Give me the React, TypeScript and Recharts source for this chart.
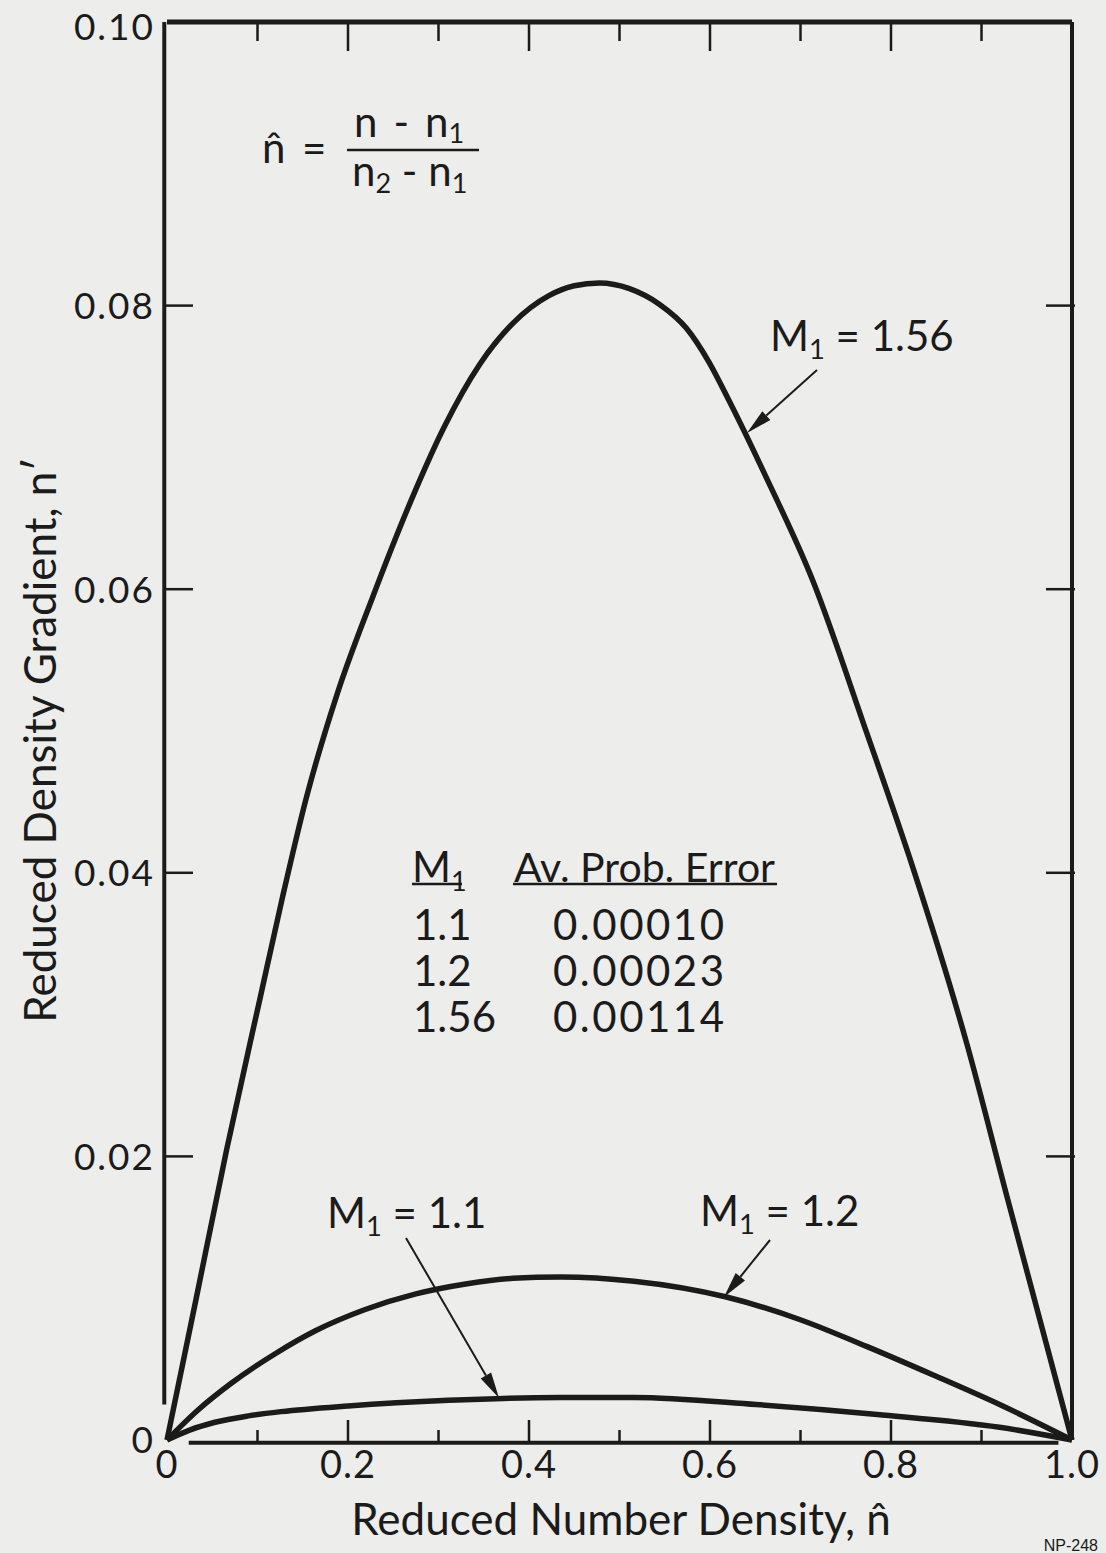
import { LineChart, Line, XAxis, YAxis, ReferenceLine } from "recharts";

const W = 1106;
const H = 1553;
// plot box (px)
const PL = 167;
const PR = 1072;
const PT = 22;
const PB = 1440;

const FONT = 'Lato, "Open Sans", sans-serif';
const INK = "#1b1b1b";
const PAPER = "#ededeb";

const xTicks = [0, 0.1, 0.2, 0.3, 0.4, 0.5, 0.6, 0.7, 0.8, 0.9, 1.0];
const xTickLabels = ["0", "", "0.2", "", "0.4", "", "0.6", "", "0.8", "", "1.0"];
const yTicks = [0, 0.02, 0.04, 0.06, 0.08, 0.1];
const yTickLabels = ["0", "0.02", "0.04", "0.06", "0.08", "0.10"];

// M1 = 1.56
const m156X = [0, 0.032, 0.066, 0.103, 0.127, 0.154, 0.188, 0.227, 0.27, 0.306, 0.346, 0.383, 0.422, 0.45, 0.478, 0.511, 0.544, 0.574, 0.599, 0.621, 0.662, 0.713, 0.773, 0.824, 0.884, 0.928, 1.0];
const m156Y = [0, 0.0099, 0.0205, 0.0312, 0.0381, 0.0453, 0.0526, 0.0594, 0.0663, 0.0714, 0.0759, 0.0788, 0.0807, 0.0814, 0.0816, 0.0812, 0.0801, 0.0784, 0.076, 0.0733, 0.0679, 0.0607, 0.0499, 0.0404, 0.0279, 0.0172, 0];

// M1 = 1.2
const m12X = [0, 0.034, 0.071, 0.12, 0.164, 0.219, 0.275, 0.33, 0.382, 0.435, 0.516, 0.617, 0.699, 0.773, 0.846, 0.92, 1.0];
const m12Y = [0, 0.0021, 0.004, 0.0061, 0.0077, 0.0092, 0.0103, 0.011, 0.0114, 0.0115, 0.0112, 0.0101, 0.0085, 0.0066, 0.0046, 0.0025, 0];

// M1 = 1.1
const m11X = [0, 0.025, 0.053, 0.09, 0.126, 0.2, 0.311, 0.435, 0.516, 0.651, 0.785, 0.92, 1.0];
const m11Y = [0, 0.0007, 0.00125, 0.0017, 0.002, 0.0024, 0.0028, 0.003, 0.003, 0.0025, 0.0018, 0.0009, 0];

const toPts = (xs: number[], ys: number[]) => xs.map((x, i) => ({ x, y: ys[i] }));

const BottomTick = (props: any) => {
  const { x, y, index } = props;
  const major = index % 2 === 0;
  return (
    <g>
      {index > 0 && index < 10 && (
        <line x1={x} x2={x} y1={y + 3} y2={y + 3 - (major ? 23 : 13)} stroke={INK} strokeWidth={2.5} />
      )}
      {xTickLabels[index] && (
        <text x={x} y={y + 38} textAnchor="middle" fontFamily={FONT} fontSize={38} letterSpacing={1} fill={INK}>
          {xTickLabels[index]}
        </text>
      )}
    </g>
  );
};

const TopTick = (props: any) => {
  const { x, y, index } = props;
  if (index === 0 || index === 10) return <g />;
  const major = index % 2 === 0;
  return <line x1={x} x2={x} y1={y} y2={y + (major ? 29 : 19)} stroke={INK} strokeWidth={2.5} />;
};

const LeftTick = (props: any) => {
  const { x, y, index } = props;
  // the top label sits a little under its tick in the original
  const ty = index === 5 ? y + 5 : y;
  return (
    <g>
      {index > 0 && index < 5 && <line x1={x - 3} x2={x + 26} y1={y} y2={y} stroke={INK} strokeWidth={2.5} />}
      <text x={x - 12} y={ty} dy="0.36em" textAnchor="end" fontFamily={FONT} fontSize={37} letterSpacing={2} fill={INK}>
        {yTickLabels[index]}
      </text>
    </g>
  );
};

const RightTick = (props: any) => {
  const { x, y, index } = props;
  if (index === 0 || index === 5) return <g />;
  return <line x1={x + 3} x2={x - 26} y1={y} y2={y} stroke={INK} strokeWidth={2.5} />;
};

function Arrow({ x1, y1, x2, y2 }: { x1: number; y1: number; x2: number; y2: number }) {
  const dx = x2 - x1;
  const dy = y2 - y1;
  const len = Math.hypot(dx, dy);
  const ux = dx / len;
  const uy = dy / len;
  const hl = 26;
  const hw = 6;
  const bx = x2 - ux * hl;
  const by = y2 - uy * hl;
  const pts = `${x2},${y2} ${bx - uy * hw},${by + ux * hw} ${bx + uy * hw},${by - ux * hw}`;
  return (
    <g>
      <line x1={x1} y1={y1} x2={bx} y2={by} stroke={INK} strokeWidth={2} />
      <polygon points={pts} fill={INK} />
    </g>
  );
}

function MLabel({ x, y, value, size = 42 }: { x: number; y: number; value: string; size?: number }) {
  return (
    <text x={x} y={y} fontFamily={FONT} fontSize={size} fill={INK}>
      M
      <tspan fontSize={size * 0.65} dy={8}>1</tspan>
      <tspan dy={-8}> = {value}</tspan>
    </text>
  );
}

export default function App() {
  return (
    <div style={{ position: "absolute", left: 0, top: 0, width: W, height: H, background: PAPER }}>
      <LineChart
        width={W}
        height={H}
        margin={{ top: PT - 10, right: W - PR - 10, bottom: H - PB - 50, left: PL - 100 }}
      >
        <XAxis
          dataKey="x"
          type="number"
          domain={[0, 1]}
          ticks={xTicks}
          interval={0}
          height={50}
          axisLine={false}
          tickLine={false}
          tickSize={0}
          tickMargin={0}
          tick={<BottomTick />}
        />
        <XAxis
          xAxisId="top"
          orientation="top"
          dataKey="x"
          type="number"
          domain={[0, 1]}
          ticks={xTicks}
          interval={0}
          height={10}
          axisLine={{ stroke: INK, strokeWidth: 5 }}
          tickLine={false}
          tickSize={0}
          tickMargin={0}
          tick={<TopTick />}
        />
        <YAxis
          type="number"
          domain={[0, 0.1]}
          ticks={yTicks}
          interval={0}
          width={100}
          axisLine={false}
          tickLine={false}
          tickSize={0}
          tickMargin={0}
          tick={<LeftTick />}
        />
        <YAxis
          yAxisId="right"
          orientation="right"
          type="number"
          domain={[0, 0.1]}
          ticks={yTicks}
          interval={0}
          width={10}
          axisLine={{ stroke: INK, strokeWidth: 4 }}
          tickLine={false}
          tickSize={0}
          tickMargin={0}
          tick={<RightTick />}
        />
        <ReferenceLine
          segment={[{ x: -0.003, y: 0.0025 }, { x: -0.003, y: 0.1 }]}
          stroke={INK}
          strokeWidth={4}
          ifOverflow="visible"
        />
        <ReferenceLine
          segment={[{ x: 0.024, y: -0.0002 }, { x: 0.985, y: -0.0002 }]}
          stroke={INK}
          strokeWidth={4}
          ifOverflow="visible"
        />
        <Line
          xAxisId="top"
          yAxisId="right"
          data={toPts(m156X, m156Y)}
          dataKey="y"
          type="monotone"
          stroke={INK}
          strokeWidth={5.5}
          dot={false}
          isAnimationActive={false}
        />
        <Line data={toPts(m12X, m12Y)} dataKey="y" type="monotone" stroke={INK} strokeWidth={5.5} dot={false} isAnimationActive={false} />
        <Line data={toPts(m11X, m11Y)} dataKey="y" type="monotone" stroke={INK} strokeWidth={5.5} dot={false} isAnimationActive={false} />
      </LineChart>

      <svg width={W} height={H} style={{ position: "absolute", left: 0, top: 0, pointerEvents: "none" }}>
        {/* formula */}
        <text x={262} y={163} fontFamily={FONT} fontSize={42} fill={INK}>{"n\u0302"}</text>
        <text x={302} y={163} fontFamily={FONT} fontSize={42} fill={INK}>=</text>
        <text x={354} y={137} fontFamily={FONT} fontSize={42} fill={INK}>
          n {"\u2009"}- {"\u2009"}n<tspan fontSize={27} dy={6}>1</tspan>
        </text>
        <line x1={347} x2={479} y1={150} y2={150} stroke={INK} strokeWidth={2.5} />
        <text x={352} y={186} fontFamily={FONT} fontSize={42} fill={INK}>
          n<tspan fontSize={27} dy={7}>2</tspan>
          <tspan dy={-7}> - n</tspan>
          <tspan fontSize={27} dy={7}>1</tspan>
        </text>

        {/* curve labels */}
        <MLabel x={770} y={351} value="1.56" />
        <Arrow x1={817} y1={370} x2={747} y2={433} />
        <MLabel x={327} y={1228} value="1.1" />
        <Arrow x1={406} y1={1238} x2={499} y2={1398} />
        <MLabel x={700} y={1226} value="1.2" />
        <Arrow x1={770} y1={1240} x2={724} y2={1297} />

        {/* table */}
        <text x={412} y={882} fontFamily={FONT} fontSize={42} fill={INK}>
          M<tspan fontSize={27} dy={9}>1</tspan>
        </text>
        <line x1={412} x2={462} y1={884} y2={884} stroke={INK} strokeWidth={2.5} />
        <text x={514} y={882} fontFamily={FONT} fontSize={41} fill={INK}>Av. Prob. Error</text>
        <line x1={513} x2={777} y1={884} y2={884} stroke={INK} strokeWidth={2.5} />
        <text x={413} y={940} fontFamily={FONT} fontSize={42} fill={INK}>1.1</text>
        <text x={553} y={940} fontFamily={FONT} fontSize={42} letterSpacing={2.5} fill={INK}>0.00010</text>
        <text x={413} y={986} fontFamily={FONT} fontSize={42} fill={INK}>1.2</text>
        <text x={553} y={986} fontFamily={FONT} fontSize={42} letterSpacing={2.5} fill={INK}>0.00023</text>
        <text x={413} y={1032} fontFamily={FONT} fontSize={42} fill={INK}>1.56</text>
        <text x={553} y={1032} fontFamily={FONT} fontSize={42} letterSpacing={2.5} fill={INK}>0.00114</text>

        {/* axis titles */}
        <text x={621} y={1535} textAnchor="middle" fontFamily={FONT} fontSize={44} fill={INK}>
          Reduced Number Density, {"n\u0302"}
        </text>
        <text
          x={40}
          y={740}
          textAnchor="middle"
          transform="rotate(-90 40 740)"
          dy="0.36em"
          fontFamily={FONT}
          fontSize={44}
          fill={INK}
        >
          Reduced Density Gradient, n′
        </text>
        <text x={1098} y={1551} textAnchor="end" fontFamily='"Liberation Sans", sans-serif' fontSize={16} fill={INK}>
          NP-248
        </text>
      </svg>
    </div>
  );
}
